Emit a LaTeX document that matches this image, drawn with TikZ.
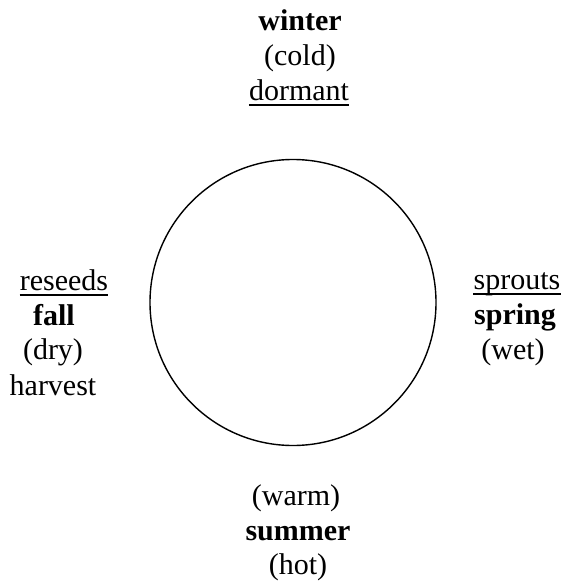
\documentclass[tikz,border=0pt]{standalone}
\usepackage{fontspec}
\setmainfont{Liberation Serif}
\begin{document}
\begin{tikzpicture}[x=1pt,y=-1pt,
  lbl/.style={inner sep=0pt,anchor=base,font=\fontsize{30}{36}\selectfont},
  bold/.style={lbl,font=\fontsize{30}{36}\selectfont\bfseries},
  uline/.style={line width=1.8pt}]
\useasboundingbox (0,0) rectangle (563,587);

% the seasonal cycle
\node[draw,circle,line width=1.4pt,minimum size=286pt,inner sep=0pt] (cycle) at (293,302.5) {};

% winter (top)
\node[bold] (winter) at (300,30) {winter};
\node[lbl] (cold) at (300,65) {(cold)};
\node[lbl] (dormant) at (299,100) {dormant};
\draw[uline] ([yshift=-5pt]dormant.base west) -- ([yshift=-5pt]dormant.base east);

% fall (left)
\node[lbl] (reseeds) at (64,290) {reseeds};
\draw[uline] ([yshift=-5pt]reseeds.base west) -- ([yshift=-5pt]reseeds.base east);
\node[bold] (fall) at (54,325) {fall};
\node[lbl] (dry) at (53,359) {(dry)};
\node[lbl] (harvest) at (53,395) {harvest};

% spring (right)
\node[lbl] (sprouts) at (517,289) {sprouts};
\draw[uline] ([yshift=-5pt]sprouts.base west) -- ([yshift=-5pt]sprouts.base east);
\node[bold] (spring) at (515,324) {spring};
\node[lbl] (wet) at (513,359) {(wet)};

% summer (bottom)
\node[lbl] (warm) at (296,505) {(warm)};
\node[bold] (summer) at (298,540) {summer};
\node[lbl] (hot) at (298,574) {(hot)};
\end{tikzpicture}
\end{document}
